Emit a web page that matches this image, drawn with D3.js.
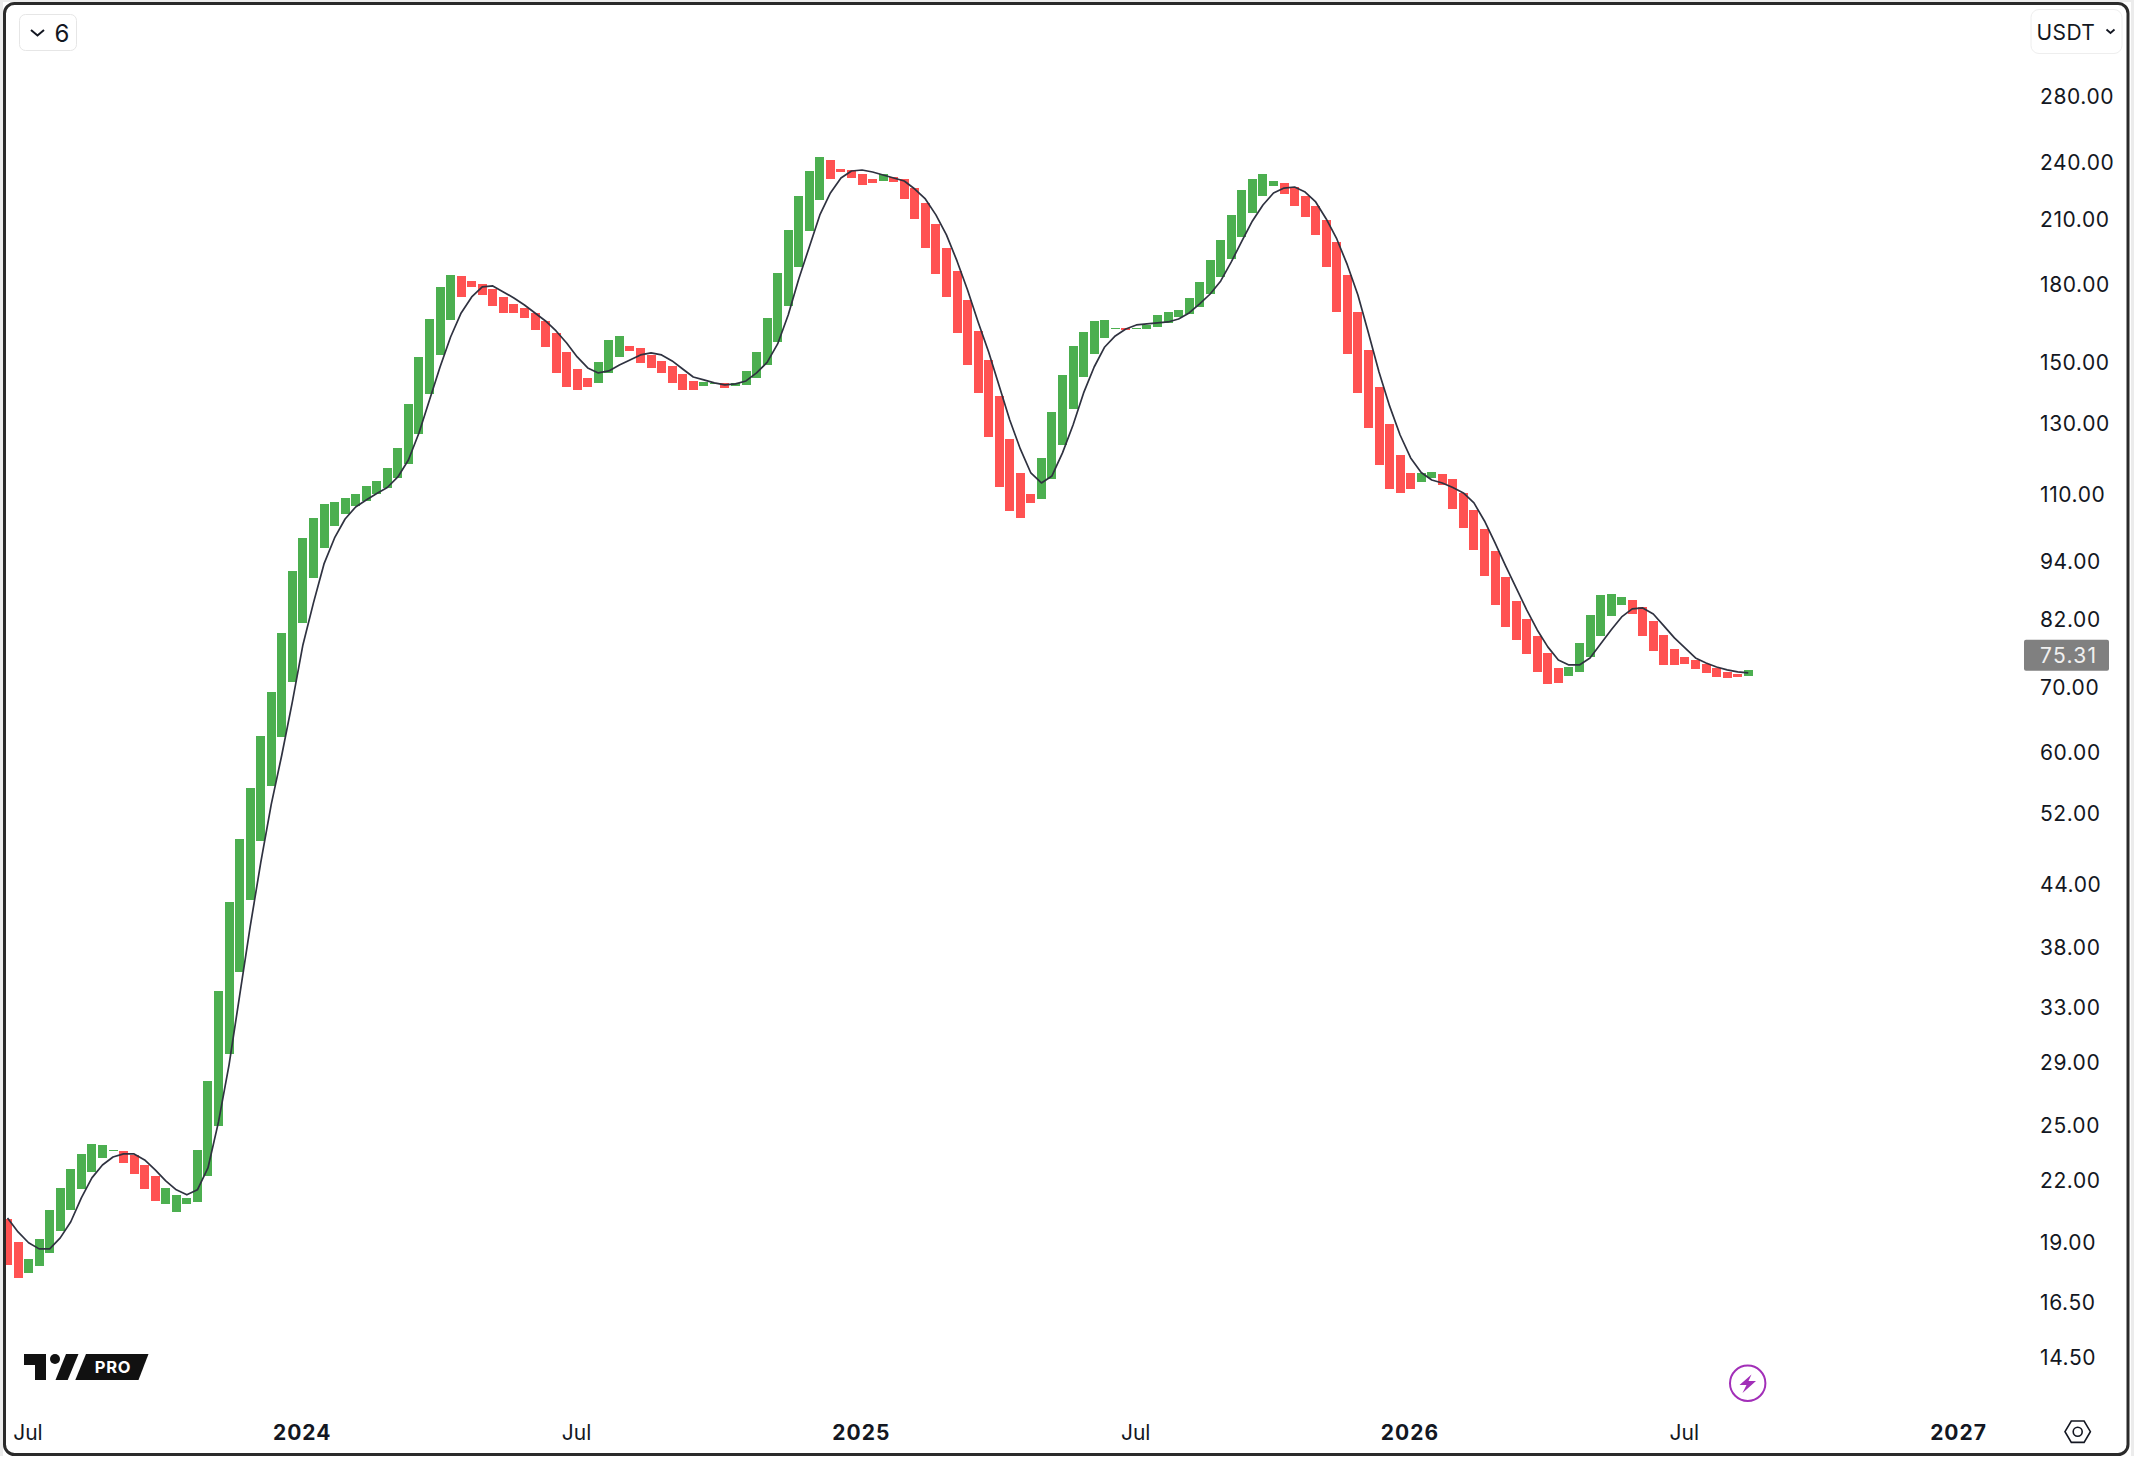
<!DOCTYPE html>
<html>
<head>
<meta charset="utf-8">
<script src="https://cdn.jsdelivr.net/npm/d3@7"></script>
<style>
html,body{margin:0;padding:0;background:#fff;overflow:hidden}
svg{display:block}
text{font-family:Inter,"Noto Sans",sans-serif;fill:#131722}
</style>
</head>
<body>
<div id="chart"></div>
<script>
const opens = [20.06,19.00,17.67,17.96,18.52,19.49,20.48,21.52,22.39,23.14,23.52,23.52,23.30,22.76,22.19,20.77,20.38,20.77,20.87,22.19,
24.95,29.54,35.81,42.36,48.71,55.41,62.17,70.75,81.26,90.30,96.89,102.03,104.95,106.94,108.2,110.0,111.55,114.2,118.03,126.63,
139.11,152.45,165.5,183.5,181.37,180.1,178.0,174.68,171.84,170.22,168.24,165.11,160.53,153.53,147.51,144.43,142.75,146.14,151.73,155.7,
154.97,152.45,150.32,148.56,145.79,143.42,141.75,142.42,142.75,141.75,142.08,144.43,148.91,157.17,171.03,187.43,203.96,219.36,240.93,235.89,
235.34,233.14,230.41,229.33,231.5,230.41,225.59,217.82,207.34,195.98,185.68,173.46,161.28,150.67,138.45,125.16,115.55,110.0,108.71,113.93,
123.41,134.3,144.77,152.81,158.65,162.04,162.42,162.04,162.04,162.8,164.34,166.67,167.85,170.63,175.9,183.1,190.99,201.1,212.8,221.4,
226.66,228.26,226.13,221.4,216.3,209.3,198.77,183.95,168.64,154.25,141.42,129.65,120.55,115.55,113.14,114.2,115.28,113.93,110.25,105.94,
101.32,96.21,90.52,85.57,82.02,78.81,75.74,73.11,71.75,72.43,75.03,78.81,82.61,84.77,85.77,84.37,81.64,79.0,76.45,75.03,
74.5,73.8,73.11,72.43,72.09,71.75];
const closes = [18.00,17.46,18.25,19.13,20.48,21.57,22.55,23.36,23.91,23.86,23.58,22.87,22.29,21.52,20.92,21.57,21.22,21.07,23.58,27.73,
34.25,42.21,48.93,55.16,62.32,69.11,79.37,91.80,99.20,103.96,107.45,107.95,108.97,110.0,112.07,113.4,116.92,122.54,135.88,151.73,
165.89,178.83,183.95,174.68,178.83,175.51,171.03,168.24,168.24,166.28,161.66,155.33,146.14,141.42,140.42,141.42,149.96,157.91,159.4,153.89,
149.61,147.86,146.14,142.75,140.42,140.42,143.09,142.75,141.08,142.75,146.83,153.53,166.28,184.81,204.44,221.4,234.79,242.62,230.41,234.24,
230.95,227.19,228.26,233.14,228.8,219.87,209.79,195.98,184.38,174.68,160.53,148.91,139.44,125.75,111.81,105.69,103.96,107.7,119.7,133.35,
145.45,155.7,160.9,165.11,165.5,162.42,161.66,162.42,163.58,167.45,168.64,169.43,174.27,180.95,190.54,199.7,211.8,224.54,230.41,233.14,
229.33,222.44,216.3,210.77,202.07,187.43,168.64,152.81,139.44,128.43,117.75,111.29,110.25,111.29,115.55,115.83,112.35,106.19,101.56,96.44,
90.73,84.77,80.5,78.08,75.56,72.43,70.42,70.58,73.28,77.53,82.8,86.78,86.98,86.37,82.99,78.81,76.09,73.63,73.63,73.8,
72.94,72.26,71.58,71.41,71.58,72.77];
const maValues = [20.10,19.45,18.96,18.69,18.69,19.18,19.92,21.07,22.08,22.76,23.19,23.36,23.36,23.03,22.50,21.93,21.47,21.22,21.47,22.6,
25.18,28.79,33.85,39.81,46.25,53.07,59.6,67.5,77.17,85.17,93.33,99.2,103.72,106.69,108.46,110.12,111.68,114.47,119.14,126.94,
137.16,148.2,159.0,168.24,174.68,178.83,179.25,176.75,174.27,171.43,168.24,165.11,161.28,156.8,151.73,147.86,146.14,146.83,148.91,150.67,
152.45,153.17,152.45,150.32,147.51,144.77,143.76,142.75,142.08,142.42,143.42,146.14,149.79,156.44,167.45,182.23,196.44,211.8,222.98,230.95,
234.79,235.34,234.24,232.6,230.95,229.33,225.07,219.87,211.8,202.07,190.1,177.58,164.73,153.53,141.75,130.87,122.26,115.55,112.87,114.75,
121.12,129.34,139.44,148.2,155.33,159.4,162.04,163.58,163.96,164.34,164.73,165.89,168.24,171.84,175.9,181.37,189.65,199.2,208.81,216.8,
222.98,225.59,226.13,223.49,218.33,209.79,200.17,188.32,175.51,160.53,146.48,135.26,126.33,119.7,115.69,113.67,112.87,111.68,110.25,107.7,
103.24,98.05,92.9,88.21,83.78,79.93,76.81,74.5,73.63,73.63,74.85,77.35,79.93,82.41,83.98,84.17,82.99,80.69,78.45,76.63,
74.85,73.97,73.28,72.77,72.43,72.26];
const priceTicks = [280,240,210,180,150,130,110,94,82,70,60,52,44,38,33,29,25,22,19,16.5,14.5];
const timeTickDates = ["2023-07-03","2024-01-01","2024-07-01","2025-01-06","2025-07-07","2026-01-05","2026-07-06","2027-01-04"];
const timeTickLabels = ["Jul","2024","Jul","2025","Jul","2026","Jul","2027"];
const lastPrice = 75.31;
const unitLabel = "USDT";
const tabLabel = "6";

const W = 2134, H = 1464;
const UP = "#4caf50", DOWN = "#ff5252", MA = "#2f3240";
const firstWeek = new Date(Date.UTC(2023,5,19));
const weeks = d3.utcMonday.range(firstWeek, d3.utcDay.offset(firstWeek, opens.length*7));
const bars = weeks.map((d,i)=>({date:d,open:opens[i],close:closes[i],ma:maValues[i]}));

const x = d3.scaleUtc().domain([firstWeek, d3.utcMonday.offset(firstWeek,165)]).range([7.5, 7.5+10.55*165]);
const y = d3.scaleLog().domain([280,14.5]).range([96,1357]);

const svg = d3.select("#chart").append("svg").attr("width",W).attr("height",H).attr("viewBox",`0 0 ${W} ${H}`);
svg.append("rect").attr("width",W).attr("height",H).attr("fill","#fff");
svg.append("rect").attr("x",0).attr("y",0).attr("width",3).attr("height",1456).attr("fill","#ececec");
svg.append("rect").attr("x",2131).attr("y",0).attr("width",3).attr("height",1456).attr("fill","#ececec");
svg.append("rect").attr("x",0).attr("y",0).attr("width",W).attr("height",2).attr("fill","#ececec");

const defs = svg.append("defs");
defs.append("clipPath").attr("id","plot").append("rect").attr("x",6).attr("y",5).attr("width",2000).attr("height",1340);

const plot = svg.append("g").attr("clip-path","url(#plot)");
plot.append("g").selectAll("rect").data(bars).join("rect")
  .attr("x",d=>Math.round(x(d.date)-4.5))
  .attr("width",9)
  .attr("y",d=>y(Math.max(d.open,d.close)))
  .attr("height",d=>Math.max(1,y(Math.min(d.open,d.close))-y(Math.max(d.open,d.close))))
  .attr("fill",d=>d.close>=d.open?UP:DOWN)
  .attr("shape-rendering","crispEdges");
plot.append("path").datum(bars)
  .attr("fill","none").attr("stroke",MA).attr("stroke-width",1.7).attr("stroke-linejoin","round")
  .attr("d",d3.line().x(d=>x(d.date)).y(d=>y(d.ma)));

// price axis
const yAxis = d3.axisRight(y).tickValues(priceTicks).tickSize(0).tickPadding(0).tickFormat(d=>d.toFixed(2));
const yG = svg.append("g").attr("transform","translate(2040,1)").call(yAxis);
yG.select(".domain").remove();
yG.selectAll("text").attr("font-size",21).style("letter-spacing","0.6px").attr("fill","#131722");

// last price tag
svg.append("rect").attr("x",2024).attr("y",y(lastPrice)-15.5).attr("width",85).attr("height",31).attr("rx",2).attr("fill","#808080");
svg.append("text").attr("x",2040).attr("y",y(lastPrice)).attr("dy","0.36em").attr("font-size",21)
  .style("fill","#f0f0f0").style("letter-spacing","1.3px").text(lastPrice.toFixed(2));

// time axis
const tickDates = timeTickDates.map(d=>new Date(d+"T00:00:00Z"));
const xAxis = d3.axisBottom(x).tickValues(tickDates).tickSize(0).tickPadding(0)
  .tickFormat((d,i)=>timeTickLabels[i]);
const xG = svg.append("g").attr("transform","translate(-1.2,1425)").call(xAxis);
xG.select(".domain").remove();
xG.selectAll("text").attr("font-size",21)
  .style("font-weight",(d,i)=>/^\d/.test(timeTickLabels[i])?"700":"400")
  .style("letter-spacing",(d,i)=>/^\d/.test(timeTickLabels[i])?"1px":"0");

// frame
svg.append("rect").attr("x",4.5).attr("y",3.5).attr("width",2123.5).attr("height",1451)
  .attr("rx",10).attr("fill","none").attr("stroke","#2a2a2a").attr("stroke-width",3);

// top-left pill
svg.append("rect").attr("x",19.5).attr("y",14.5).attr("width",57).attr("height",36).attr("rx",6)
  .attr("fill","#fff").attr("stroke","#e6e6e6").attr("stroke-width",1);
svg.append("path").attr("d","M31 30 L37.5 35.5 L44 30").attr("fill","none").attr("stroke","#131722").attr("stroke-width",2);
svg.append("text").attr("x",54.5).attr("y",33).attr("dy","0.36em").attr("font-size",24).text(tabLabel);

// top-right pill
svg.append("rect").attr("x",2031).attr("y",9.5).attr("width",91).attr("height",44).attr("rx",8)
  .attr("fill","#fff").attr("stroke","#eeeeee").attr("stroke-width",1);
svg.append("text").attr("x",2036.5).attr("y",32).attr("dy","0.36em").attr("font-size",21).style("letter-spacing","0.4px").text(unitLabel);
svg.append("path").attr("d","M2106.5 29.5 L2110.5 33 L2114.5 29.5").attr("fill","none").attr("stroke","#131722").attr("stroke-width",1.8);

// logo
const logo = svg.append("g").attr("fill","#111");
logo.append("path").attr("d","M24 1354 H46 V1380 H35 V1365 H24 Z");
logo.append("circle").attr("cx",55).attr("cy",1359).attr("r",5);
logo.append("path").attr("d","M66 1354 H78.5 L67.7 1380 H55.5 Z");
logo.append("path").attr("d","M86 1354 H148.5 L138.5 1380 H75.3 Z");
svg.append("text").attr("x",113).attr("y",1367).attr("dy","0.36em").attr("text-anchor","middle")
  .attr("font-size",16.5).style("font-weight","700").style("fill","#fff").style("letter-spacing","0.8px").text("PRO");

// bolt icon
svg.append("circle").attr("cx",1747.7).attr("cy",1383.3).attr("r",17.7).attr("fill","none").attr("stroke","#a22fb8").attr("stroke-width",2);
svg.append("path").attr("d","M1739.5 1385 L1751.5 1374.5 L1748.5 1381 L1756 1381 L1742.5 1393 L1746.5 1385 Z").attr("fill","#a22fb8");

// settings hex
const gear = svg.append("g").attr("fill","none").attr("stroke","#131722").attr("stroke-width",1.6);
gear.append("path").attr("d","M2065 1431.7 L2071.3 1421 H2084.1 L2090.4 1431.7 L2084.1 1442.4 H2071.3 Z");
gear.append("circle").attr("cx",2077.7).attr("cy",1431.7).attr("r",4.5);
</script>
</body>
</html>
